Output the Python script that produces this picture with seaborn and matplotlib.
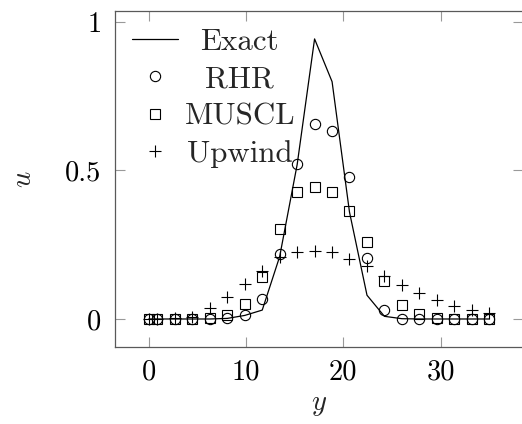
import numpy as np
import pandas as pd
import matplotlib
matplotlib.use("Agg")
import matplotlib.pyplot as plt
from matplotlib.offsetbox import VPacker
import seaborn as sns

# grid positions (y) and solutions
y_grid = [0.0, 0.9, 2.69, 4.49, 6.28, 8.08, 9.87, 11.67, 13.46, 15.26, 17.05,
          18.85, 20.64, 22.44, 24.23, 26.03, 27.82, 29.62, 31.41, 33.21, 35.0]
u_exact = [0, 0, 0, 0, 0, 0.002, 0.012, 0.03, 0.21, 0.52, 0.943,
           0.799, 0.36, 0.08, 0.009, 0.001, 0, 0, 0, 0, 0]
u_rhr = [0, 0, 0, 0, 0, 0.005, 0.015, 0.067, 0.219, 0.521, 0.657,
         0.633, 0.478, 0.204, 0.031, 0, 0, 0, 0, 0, 0]
u_muscl = [0, 0, 0, 0, 0.005, 0.012, 0.05, 0.143, 0.303, 0.427, 0.446,
           0.429, 0.362, 0.259, 0.129, 0.048, 0.016, 0.005, 0.001, 0, 0]
u_upwind = [0, 0, 0.002, 0.007, 0.037, 0.074, 0.119, 0.16, 0.21, 0.224, 0.23,
            0.224, 0.203, 0.177, 0.146, 0.115, 0.087, 0.063, 0.045, 0.029, 0.02]

x_ticks = [0, 10, 20, 30]
y_ticks = [0, 0.5, 1]
y_tick_labels = ["0", "0.5", "1"]

df = pd.DataFrame({"y": y_grid, "Exact": u_exact, "RHR": u_rhr,
                   "MUSCL": u_muscl, "Upwind": u_upwind})

sns.set_style("ticks")
plt.rcParams["font.family"] = "serif"
plt.rcParams["font.serif"] = ["cmr10"]
plt.rcParams["mathtext.fontset"] = "cm"
plt.rcParams["axes.formatter.use_mathtext"] = True

fs = 20.5
fig = plt.figure(figsize=(5.22, 4.24), dpi=100)
ax = fig.add_axes([114.7 / 522, 77 / 424, 408.5 / 522, 336 / 424])

sns.lineplot(data=df, x="y", y="Exact", ax=ax, color="black", lw=0.9,
             estimator=None, label="Exact")
sns.lineplot(data=df, x="y", y="RHR", ax=ax, ls="none", marker="o", ms=7.4,
             mfc="none", mec="black", mew=0.8, estimator=None, label="RHR")
sns.lineplot(data=df, x="y", y="MUSCL", ax=ax, ls="none", marker="s", ms=7.2,
             mfc="none", mec="black", mew=0.8, estimator=None, label="MUSCL")
sns.lineplot(data=df, x="y", y="Upwind", ax=ax, ls="none", marker="+", ms=8,
             color="black", mec="black", mew=0.8, estimator=None, label="Upwind")

ax.set_xlim(-3.5, 38.5)
ax.set_ylim(-0.0943, 1.037)
ax.set_xticks(x_ticks)
ax.set_xticklabels([str(t) for t in x_ticks])
ax.set_yticks(y_ticks)
ax.set_yticklabels(y_tick_labels)
ax.tick_params(direction="in", length=7, width=0.8, color="0.6",
               top=True, right=True, labelsize=fs, labelcolor="black")
ax.tick_params(axis="y", pad=9.5)
ax.tick_params(axis="x", pad=8.5)
for s in ax.spines.values():
    s.set_color("0.35")
    s.set_linewidth(0.9)

ax.set_xlabel("$y$", fontsize=fs, labelpad=5)
ax.set_ylabel("$u$", fontsize=fs, labelpad=20)

leg = ax.legend(loc="upper left", frameon=False, fontsize=22.3, numpoints=1,
                handlelength=1.5, handletextpad=0.2, labelspacing=0.3,
                borderaxespad=0.45, borderpad=0.1)

# centre the legend labels in their column, like pgfplots does
try:
    renderer = fig.canvas.get_renderer()
    w_max = max(t.get_window_extent(renderer).width for t in leg.get_texts())
    for col in leg._legend_handle_box.get_children():
        for row in col.get_children():
            kids = row._children
            kids[1] = VPacker(children=[kids[1]], pad=0, sep=0,
                              width=w_max, align="center")
except Exception as e:
    print("legend centring skipped:", e)

fig.savefig("out.png", dpi=100)
